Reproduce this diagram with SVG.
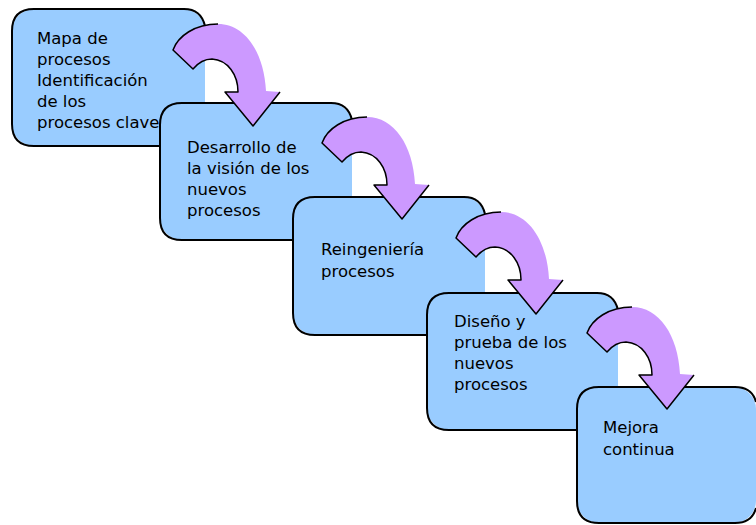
<svg xmlns="http://www.w3.org/2000/svg" xmlns:xlink="http://www.w3.org/1999/xlink" width="756" height="525" viewBox="0 0 756 525">
  <style>
    .box { fill: #99CCFF; stroke: none; }
    .edge { fill: none; stroke: #000; stroke-width: 2; }
    .lbl { font-family: "DejaVu Sans", "Verdana", sans-serif; font-size: 16.5px; fill: #000; }
    .arrow-fill { fill: #CC99FF; stroke: none; }
    .arrow-line { fill: none; stroke: #000; stroke-width: 1.5; stroke-linejoin: round; }
  </style>
  <defs>
    <!-- curved step arrow, drawn at the first step's position -->
    <g id="stepArrow">
      <path class="arrow-fill" d="M173,50 C178,36 195,24 218,24 C245,24 264,52 266,91 L280,92 L253,126 L225,92 L238,92 C238,75 228,60 212,59 C204,59 198,63 193,69 Z"/>
      <path class="arrow-line" d="M280,92 L253,126 L225,92 L238,92 C238,75 228,60 212,59 C204,59 198,63 193,69 L173,50 C178,36 195,24 218,24"/>
    </g>
  </defs>
  <rect width="756" height="525" fill="#fff"/>

  <g id="step1">
    <rect class="box" x="12" y="9" width="193" height="137" rx="22"/>
    <path class="edge" d="M205,26 Q201,9 184,9 L34,9 Q12,9 12,31 L12,124 Q12,146 34,146 L205,146"/>
    <text class="lbl" x="37" y="44">Mapa de</text>
    <text class="lbl" x="37" y="65">procesos</text>
    <text class="lbl" x="37" y="86">Identificación</text>
    <text class="lbl" x="37" y="107">de los</text>
    <text class="lbl" x="37" y="128">procesos clave</text>
  </g>

  <g id="step2">
    <rect class="box" x="160" y="103" width="192" height="137" rx="22"/>
    <path class="edge" d="M352,120 Q348,103 331,103 L182,103 Q160,103 160,125 L160,218 Q160,240 182,240 L352,240"/>
    <text class="lbl" x="187" y="153">Desarrollo de</text>
    <text class="lbl" x="187" y="174">la visión de los</text>
    <text class="lbl" x="187" y="195">nuevos</text>
    <text class="lbl" x="187" y="216">procesos</text>
  </g>

  <g id="step3">
    <rect class="box" x="293" y="197" width="192" height="138" rx="22"/>
    <path class="edge" d="M485,214 Q481,197 464,197 L315,197 Q293,197 293,219 L293,313 Q293,335 315,335 L485,335"/>
    <text class="lbl" x="321" y="255">Reingeniería</text>
    <text class="lbl" x="321" y="277">procesos</text>
  </g>

  <g id="step4">
    <rect class="box" x="427" y="293" width="191" height="137" rx="22"/>
    <path class="edge" d="M618,310 Q614,293 597,293 L449,293 Q427,293 427,315 L427,408 Q427,430 449,430 L618,430"/>
    <text class="lbl" x="454" y="327">Diseño y</text>
    <text class="lbl" x="454" y="348">prueba de los</text>
    <text class="lbl" x="454" y="369">nuevos</text>
    <text class="lbl" x="454" y="390">procesos</text>
  </g>

  <g id="step5">
    <rect class="box" x="577" y="387" width="179" height="136" rx="22"/>
    <path class="edge" d="M756,402 Q752,387 735,387 L599,387 Q577,387 577,409 L577,501 Q577,523 599,523 L735,523 Q752,523 756,508"/>
    <text class="lbl" x="603" y="433">Mejora</text>
    <text class="lbl" x="603" y="455">continua</text>
  </g>

  <g id="connectors">
    <use xlink:href="#stepArrow"/>
    <use xlink:href="#stepArrow" transform="translate(149,93)"/>
    <use xlink:href="#stepArrow" transform="translate(283,188)"/>
    <use xlink:href="#stepArrow" transform="translate(414,283)"/>
  </g>
</svg>
